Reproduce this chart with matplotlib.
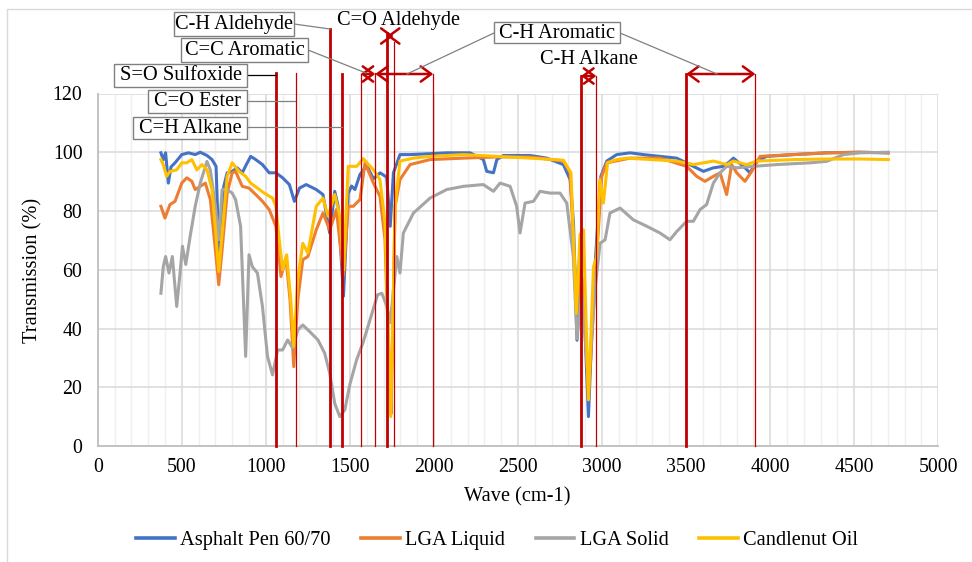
import matplotlib
matplotlib.use("Agg")
import matplotlib.pyplot as plt
from matplotlib.lines import Line2D
from matplotlib.patches import Rectangle
from matplotlib.transforms import blended_transform_factory
from matplotlib.ticker import MultipleLocator

plt.rcParams['font.family'] = ['Liberation Serif', 'DejaVu Serif']

# ---------------- data ----------------
series_names = ["Asphalt Pen 60/70", "LGA Liquid", "LGA Solid", "Candlenut Oil"]
series_colors = ["#4472C4", "#ED7D31", "#A5A5A5", "#FFC000"]

asphalt_wave = [376, 390, 404, 420, 436, 460, 500, 540, 580, 610, 650, 680, 704, 724, 750, 770, 800,
                830, 860, 884, 910, 940, 980, 1020, 1060, 1100, 1140, 1170, 1200, 1240, 1300, 1340,
                1380, 1410, 1430, 1462, 1490, 1510, 1530, 1560, 1600, 1640, 1680, 1719, 1740, 1759,
                1798, 1858, 1977, 2076, 2215, 2294, 2314, 2354, 2374, 2413, 2572, 2671, 2770, 2810,
                2830, 2851, 2870, 2889, 2919, 2949, 2968, 2993, 3028, 3087, 3167, 3246, 3444, 3543,
                3603, 3662, 3722, 3761, 3781, 3841, 3880, 3920, 3979, 4138, 4336, 4535, 4703]
asphalt_trans = [99.8, 97.5, 99.8, 89.5, 95.0, 96.4, 99.2, 99.8, 99.2, 100.0, 98.9, 97.5, 95.2, 61.0,
                 88.4, 93.0, 93.5, 94.7, 93.0, 95.8, 98.6, 97.5, 95.8, 93.0, 93.0, 91.3, 89.0, 83.3,
                 87.8, 89.0, 87.3, 85.6, 72.5, 86.7, 81.6, 51.0, 86.0, 88.5, 87.3, 92.4, 95.5, 91.0,
                 93.0, 91.5, 74.8, 93.0, 99.2, 99.2, 99.5, 99.8, 99.8, 97.5, 93.5, 93.0, 97.5, 98.9,
                 98.9, 98.0, 95.8, 90.7, 75.9, 36.0, 58.9, 53.2, 10.0, 53.0, 70.2, 91.8, 97.0, 99.2,
                 99.8, 99.2, 98.0, 95.2, 93.5, 94.7, 95.2, 96.9, 98.0, 95.2, 93.0, 97.0, 98.6, 99.2,
                 99.8, 100.0, 99.8]

liquid_wave = [376, 400, 430, 460, 500, 530, 560, 580, 610, 640, 670, 700, 720, 740, 770, 800, 820,
               860, 900, 940, 980, 1020, 1060, 1090, 1120, 1144, 1166, 1190, 1220, 1250, 1300, 1340,
               1380, 1420, 1462, 1490, 1520, 1560, 1590, 1640, 1679, 1709, 1735, 1745, 1769, 1798,
               1858, 1977, 2175, 2374, 2572, 2770, 2810, 2851, 2870, 2889, 2919, 2968, 2998, 3028,
               3167, 3345, 3503, 3563, 3612, 3662, 3702, 3741, 3771, 3801, 3850, 3890, 3940, 4138,
               4336, 4535, 4703]
liquid_trans = [81.6, 77.6, 82.2, 83.3, 89.5, 91.3, 90.1, 87.3, 88.4, 89.5, 83.9, 66.8, 54.9, 66.8,
                86.1, 93.0, 93.5, 88.4, 87.8, 85.6, 83.3, 80.5, 74.8, 57.7, 64.0, 49.8, 27.0, 49.8,
                63.4, 64.5, 73.6, 79.3, 73.6, 80.5, 58.0, 81.6, 81.6, 83.9, 96.4, 89.5, 85.0, 70.2,
                24.8, 11.0, 81.6, 90.7, 95.8, 97.5, 98.0, 98.4, 98.4, 97.0, 93.0, 45.0, 60.0, 55.0,
                16.8, 64.5, 91.8, 96.4, 98.0, 98.0, 95.2, 91.8, 90.1, 91.8, 93.0, 85.6, 95.8, 93.0,
                90.1, 93.5, 98.6, 99.2, 99.8, 100.0, 99.8]

solid_wave = [376, 390, 404, 424, 444, 470, 490, 504, 524, 550, 580, 610, 650, 670, 700, 720, 740,
              770, 800, 820, 850, 880, 900, 920, 950, 980, 1010, 1040, 1070, 1100, 1130, 1160, 1190,
              1220, 1260, 1310, 1350, 1380, 1410, 1440, 1470, 1500, 1540, 1580, 1620, 1665, 1690,
              1720, 1740, 1779, 1798, 1818, 1878, 1977, 2076, 2175, 2294, 2354, 2393, 2453, 2492,
              2512, 2542, 2592, 2631, 2691, 2750, 2790, 2829, 2851, 2879, 2919, 2958, 2988, 3018,
              3047, 3107, 3186, 3266, 3345, 3404, 3444, 3503, 3543, 3583, 3622, 3662, 3702, 3741,
              3801, 3900, 4039, 4237, 4336, 4436, 4535, 4703]
solid_trans = [52.0, 61.0, 64.5, 58.9, 64.5, 47.5, 58.9, 68.0, 61.8, 71.4, 81.6, 89.5, 96.9, 94.0,
               81.6, 70.2, 87.3, 87.3, 86.1, 83.9, 74.8, 30.5, 65.1, 61.0, 58.9, 47.5, 30.5, 24.2,
               32.7, 32.7, 36.1, 33.3, 39.5, 41.2, 39.0, 36.1, 31.6, 24.8, 14.5, 10.0, 12.3, 21.0,
               29.3, 35.5, 43.0, 51.5, 52.0, 47.5, 42.0, 64.5, 58.9, 72.5, 79.3, 84.4, 87.3, 88.4,
               89.0, 86.7, 89.5, 88.4, 81.6, 72.5, 82.7, 83.3, 86.7, 86.1, 86.1, 82.7, 64.5, 36.5,
               52.0, 22.0, 53.2, 69.0, 70.2, 79.3, 81.0, 77.0, 74.8, 72.5, 70.2, 73.0, 76.5, 76.5,
               80.5, 82.2, 89.5, 93.0, 95.2, 94.7, 95.2, 95.8, 96.4, 96.9, 99.2, 99.8, 100.0]

candle_wave = [376, 390, 410, 430, 470, 500, 530, 560, 590, 620, 650, 680, 704, 720, 740, 770, 800,
               840, 880, 910, 950, 990, 1040, 1060, 1080, 1100, 1124, 1150, 1166, 1190, 1220, 1250,
               1300, 1340, 1370, 1410, 1440, 1463, 1490, 1540, 1580, 1640, 1679, 1709, 1743, 1769,
               1798, 1878, 1977, 2175, 2374, 2572, 2770, 2815, 2847, 2869, 2889, 2919, 2949, 2968,
               2986, 3008, 3033, 3087, 3147, 3444, 3543, 3603, 3662, 3702, 3741, 3781, 3860, 3920,
               4138, 4336, 4535, 4703]
candle_trans = [97.5, 95.8, 91.8, 93.5, 94.0, 96.4, 96.4, 97.5, 94.0, 95.8, 94.0, 87.3, 71.4, 59.4,
                72.5, 91.8, 96.4, 93.5, 91.8, 89.5, 87.8, 86.1, 84.4, 81.6, 70.2, 60.0, 65.1, 48.6,
                33.9, 56.6, 69.0, 65.7, 81.6, 84.4, 78.2, 85.6, 78.2, 60.0, 95.2, 95.2, 97.8, 94.0,
                90.7, 75.9, 10.0, 81.6, 97.0, 98.0, 98.6, 99.2, 98.6, 98.0, 97.3, 93.0, 45.2, 72.0,
                73.6, 15.7, 61.0, 64.5, 90.7, 82.7, 96.5, 97.5, 98.0, 97.0, 95.8, 96.4, 97.0, 96.4,
                95.8, 97.0, 95.8, 97.0, 97.5, 97.7, 97.7, 97.5]

# band marker lines (wavenumber), drawn thick or thin
bands_thick = [1060, 1380, 1453, 1720, 2875, 3500]
bands_thin = [1178, 1564, 1651, 1760, 1996, 2966, 3912]

x_ticks = [0, 500, 1000, 1500, 2000, 2500, 3000, 3500, 4000, 4500, 5000]
y_ticks = [0, 20, 40, 60, 80, 100, 120]

# ---------------- figure ----------------
W, H = 972, 562
fig = plt.figure(figsize=(W / 100, H / 100), dpi=100)

def fx(px):
    return px / W

def fy(py):
    return 1 - py / H

ax = fig.add_axes([fx(97.7), fy(446), fx(938.3) - fx(97.7), fy(93.5) - fy(446)])
ax.set_xlim(0, 5000)
ax.set_ylim(0, 120)
ax.set_xticks(x_ticks)
ax.set_yticks(y_ticks)
ax.xaxis.set_minor_locator(MultipleLocator(100))
ax.grid(which='minor', axis='x', color='#efefef', lw=1.0, zorder=0)
ax.grid(which='major', axis='both', color='#d9d9d9', lw=1.1, zorder=0)
ax.set_axisbelow(True)
for s in ['top', 'right']:
    ax.spines[s].set_visible(False)
for s in ['left', 'bottom']:
    ax.spines[s].set_color('#bfbfbf')
    ax.spines[s].set_linewidth(1.3)
ax.tick_params(which='both', length=0, labelsize=14.3, colors='black')
ax.tick_params(axis='y', pad=11)
ax.tick_params(axis='x', pad=9)

waves = [asphalt_wave, liquid_wave, solid_wave, candle_wave]
trans = [asphalt_trans, liquid_trans, solid_trans, candle_trans]
for w, t, c, n in zip(waves, trans, series_colors, series_names):
    ax.plot(w, t, color=c, lw=2.2, label=n, zorder=3, solid_joinstyle='round')

red = '#C00000'
bt = blended_transform_factory(ax.transData, fig.transFigure)
tops = {1060: 73, 1380: 29, 1453: 74, 1720: 33, 2875: 76, 3500: 74,
        1178: 73, 1564: 74, 1651: 73, 1760: 42, 1996: 74, 2966: 76, 3912: 74}
for b in bands_thick:
    ax.add_line(Line2D([b, b], [fy(446), fy(tops[b])], transform=bt, color=red, lw=2.0,
                       clip_on=False, zorder=5))
for b in bands_thin:
    ax.add_line(Line2D([b, b], [fy(446), fy(tops[b])], transform=bt, color=red, lw=0.9,
                       clip_on=False, zorder=5))

# double-headed arrows
arrow_pairs = [(1564, 1651, 74), (1651, 1996, 74), (1720, 1760, 36), (2875, 2966, 76), (3500, 3912, 74)]
for a, b, py in arrow_pairs:
    ax.annotate('', xy=(b, fy(py)), xytext=(a, fy(py)), xycoords=bt, textcoords=bt,
                arrowprops=dict(arrowstyle='<->,head_length=0.75,head_width=0.55', color=red,
                                lw=1.8, shrinkA=0, shrinkB=0, mutation_scale=10),
                annotation_clip=False, zorder=6)

TXT = 14.7

# labelled boxes
boxes = [("C-H Aldehyde", 174, 12, 294, 36),
         ("C=C Aromatic", 181, 38, 308, 62),
         ("S=O Sulfoxide", 114, 64, 247, 87),
         ("C=O Ester", 148, 90, 247, 113),
         ("C=H Alkane", 133, 117, 247, 139),
         ("C-H Aromatic", 494, 22, 620, 43)]
for txt, x0, y0, x1, y1 in boxes:
    fig.patches.append(Rectangle((fx(x0), fy(y1)), fx(x1) - fx(x0), fy(y0) - fy(y1),
                                 transform=fig.transFigure, facecolor='white',
                                 edgecolor='#808080', lw=1.0, zorder=7))
    fig.text(fx((x0 + x1) / 2), fy((y0 + y1) / 2 + 0.5), txt, ha='center', va='center',
             fontsize=TXT, zorder=8)

connectors = [((294, 24), (330, 29), '#808080'),
              ((308, 50), (366, 73), '#808080'),
              ((247, 75), (276, 75), 'black'),
              ((247, 101), (295, 101), '#808080'),
              ((247, 127), (342, 127), '#808080'),
              ((494, 33), (407, 74), '#808080'),
              ((620, 33), (717, 74), '#808080')]
for (xa, ya), (xb, yb), c in connectors:
    fig.add_artist(Line2D([fx(xa), fx(xb)], [fy(ya), fy(yb)], transform=fig.transFigure,
                          color=c, lw=0.9, zorder=6))

fig.text(fx(398), fy(21), "C=O Aldehyde", ha='center', va='center', fontsize=TXT)
fig.text(fx(589), fy(60), "C-H Alkane", ha='center', va='center', fontsize=TXT)

# axis labels
fig.text(fx(517), fy(497), "Wave (cm-1)", ha='center', va='center', fontsize=TXT)
fig.text(fx(33), fy(270), "Transmission (%)", ha='center', va='center', rotation=90, fontsize=TXT)

# chart border (top and left visible)
fig.add_artist(Line2D([fx(7), fx(7), 1.0], [0.0, fy(9), fy(9)], transform=fig.transFigure,
                      color='#d9d9d9', lw=1.0))

handles = [Line2D([], [], color=c, lw=2.6) for c in series_colors]
fig.legend(handles, series_names, loc='center', bbox_to_anchor=(fx(497), fy(540)), ncol=4,
           frameon=False, fontsize=TXT, handlelength=1.9, handletextpad=0.25, columnspacing=1.5)

fig.savefig("out.png", dpi=100)
